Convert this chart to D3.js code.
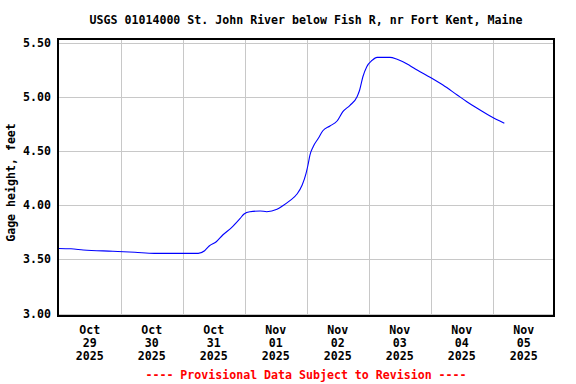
<!DOCTYPE html>
<html>
<head>
<meta charset="utf-8">
<script src="https://cdn.jsdelivr.net/npm/d3@7"></script>
<style>
  body { margin: 0; background: #fff; }
  text { font-family: "DejaVu Sans Mono", monospace; font-weight: bold; }
</style>
</head>
<body>
<script>
// gage readings (UTC-like local clock, no tz)
let times = [
  "2025-10-29T00:00", "2025-10-29T04:45", "2025-10-29T09:30", "2025-10-29T21:00",
  "2025-10-30T05:30", "2025-10-30T13:00", "2025-10-31T06:00", "2025-10-31T08:30",
  "2025-10-31T10:15", "2025-10-31T13:00", "2025-10-31T15:30", "2025-10-31T19:00",
  "2025-10-31T22:15", "2025-10-31T23:45", "2025-11-01T02:00", "2025-11-01T06:00",
  "2025-11-01T08:30", "2025-11-01T12:30", "2025-11-01T14:45", "2025-11-01T17:30",
  "2025-11-01T20:15", "2025-11-01T22:15", "2025-11-01T23:45", "2025-11-02T00:30",
  "2025-11-02T01:15", "2025-11-02T02:30", "2025-11-02T04:30", "2025-11-02T06:15",
  "2025-11-02T09:00", "2025-11-02T11:45", "2025-11-02T14:00", "2025-11-02T16:45",
  "2025-11-02T19:30", "2025-11-02T20:30", "2025-11-02T21:45", "2025-11-02T23:15",
  "2025-11-03T01:15", "2025-11-03T03:15", "2025-11-03T08:15", "2025-11-03T11:00",
  "2025-11-03T13:15", "2025-11-03T16:00", "2025-11-03T18:45", "2025-11-03T23:45",
  "2025-11-04T04:45", "2025-11-04T10:15", "2025-11-04T14:00", "2025-11-04T18:00",
  "2025-11-04T23:00", "2025-11-05T04:30"
];
let gage = [
  3.60, 3.597, 3.586, 3.574,
  3.565, 3.555, 3.555, 3.579,
  3.623, 3.662, 3.724, 3.795,
  3.878, 3.918, 3.939, 3.946,
  3.939, 3.961, 3.994, 4.041,
  4.102, 4.185, 4.293, 4.370,
  4.462, 4.539, 4.616, 4.686,
  4.730, 4.776, 4.862, 4.921,
  5.00, 5.062, 5.184, 5.277,
  5.334, 5.363, 5.363, 5.345,
  5.323, 5.286, 5.246, 5.179,
  5.108, 5.016, 4.954, 4.893,
  4.822, 4.755
];
let yTicks = [3.0, 3.5, 4.0, 4.5, 5.0, 5.5];
let dayTicks = ["2025-10-29", "2025-10-30", "2025-10-31", "2025-11-01",
  "2025-11-02", "2025-11-03", "2025-11-04", "2025-11-05"];
let title = "USGS 01014000 St. John River below Fish R, nr Fort Kent, Maine";
let yLabel = "Gage height, feet";
let footer = "---- Provisional Data Subject to Revision ----";

let width = 576;
let height = 384;
let plotLeft = 58, plotRight = 554, plotTop = 39, plotBottom = 316;

let parseTime = d3.utcParse("%Y-%m-%dT%H:%M");
let parseDay = d3.utcParse("%Y-%m-%d");
let fmtMon = d3.utcFormat("%b");
let fmtDay = d3.utcFormat("%d");
let fmtYear = d3.utcFormat("%Y");

let dataset = times.map((t, i) => ({ date: parseTime(t), value: gage[i] }));
let days = dayTicks.map(parseDay);

let x = d3
  .scaleUtc()
  .domain([parseDay("2025-10-29"), parseDay("2025-11-06")])
  .range([plotLeft + 0.7, plotRight + 0.7]);

let y = d3.scaleLinear().domain([3.0, 5.5]).range([313.5, 42.5]);

let svg = d3
  .select("body")
  .append("svg")
  .attr("width", width)
  .attr("height", height);

svg.append("rect").attr("width", width).attr("height", height).attr("fill", "white");

// grid
let grid = svg.append("g").attr("stroke", "#c8c8c8").attr("stroke-width", 1);
grid
  .selectAll("line.h")
  .data(yTicks)
  .enter()
  .append("line")
  .attr("x1", plotLeft)
  .attr("x2", plotRight)
  .attr("y1", (d) => Math.round(y(d)) + 0.5)
  .attr("y2", (d) => Math.round(y(d)) + 0.5);
grid
  .selectAll("line.v")
  .data(days.slice(1))
  .enter()
  .append("line")
  .attr("x1", (d) => Math.round(x(d)) + 0.5)
  .attr("x2", (d) => Math.round(x(d)) + 0.5)
  .attr("y1", plotTop)
  .attr("y2", plotBottom);

// data line
let line = d3
  .line()
  .x((d) => x(d.date))
  .y((d) => y(d.value))
  .curve(d3.curveMonotoneX);

svg
  .append("path")
  .datum(dataset)
  .attr("d", line)
  .attr("fill", "none")
  .attr("stroke", "#0000ff")
  .attr("stroke-width", 1.1);

// frame
svg
  .append("rect")
  .attr("x", plotLeft)
  .attr("y", plotTop)
  .attr("width", plotRight - plotLeft)
  .attr("height", plotBottom - plotTop)
  .attr("fill", "none")
  .attr("stroke", "black")
  .attr("stroke-width", 2);

// y tick labels
svg
  .selectAll("text.ytick")
  .data(yTicks)
  .enter()
  .append("text")
  .text((d) => d.toFixed(2))
  .attr("x", 51)
  .attr("y", (d) => y(d) + 4)
  .attr("text-anchor", "end")
  .attr("font-size", "11.6px")
  .attr("fill", "black");

// x tick labels, centered on noon
let noon = (d) => x(d3.utcHour.offset(d, 12));
let xl = svg
  .selectAll("text.xtick")
  .data(days)
  .enter()
  .append("text")
  .attr("x", noon)
  .attr("y", 334)
  .attr("text-anchor", "middle")
  .attr("font-size", "11.6px")
  .attr("fill", "black");
xl.append("tspan").text((d) => fmtMon(d)).attr("x", noon);
xl.append("tspan").text((d) => fmtDay(d)).attr("x", noon).attr("dy", 13);
xl.append("tspan").text((d) => fmtYear(d)).attr("x", noon).attr("dy", 13);

// title
svg
  .append("text")
  .text(title)
  .attr("x", (plotLeft + plotRight) / 2)
  .attr("y", 24)
  .attr("text-anchor", "middle")
  .attr("font-size", "11.6px")
  .attr("fill", "black");

// y axis title
svg
  .append("text")
  .text(yLabel)
  .attr("transform", `translate(15, ${(plotTop + plotBottom) / 2 + 5}) rotate(-90)`)
  .attr("text-anchor", "middle")
  .attr("font-size", "11.6px")
  .attr("fill", "black");

// footer
svg
  .append("text")
  .text(footer)
  .attr("x", (plotLeft + plotRight) / 2)
  .attr("y", 379)
  .attr("text-anchor", "middle")
  .attr("font-size", "11.6px")
  .attr("fill", "red");
</script>
</body>
</html>
